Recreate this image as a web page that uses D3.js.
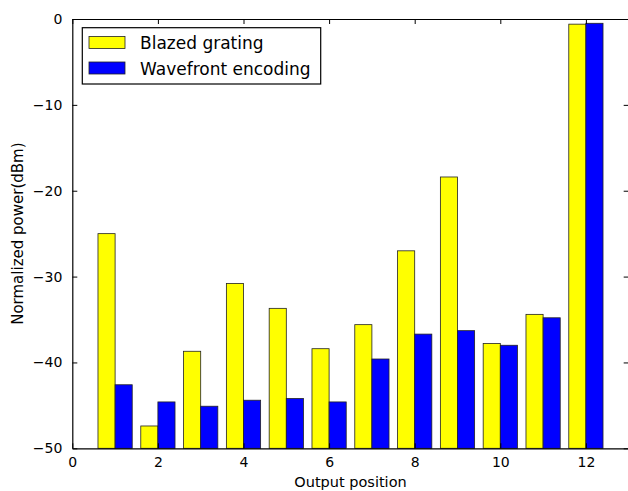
<!DOCTYPE html>
<html>
<head>
<meta charset="utf-8">
<script src="https://cdn.jsdelivr.net/npm/d3@7"></script>
<style>
  html, body { margin: 0; padding: 0; background: #fff; }
  svg { display: block; }
  text { font-family: "DejaVu Sans", sans-serif; fill: #000; }
</style>
</head>
<body>
<svg id="chart" width="628" height="491"></svg>
<script>
// Output positions along the x axis
const positions = [1, 2, 3, 4, 5, 6, 7, 8, 9, 10, 11, 12];
// Normalized power (dBm) for each method
const blazedGrating = [-25.0, -47.4, -38.7, -30.8, -33.7, -38.4, -35.6, -27.0, -18.4, -37.8, -34.4, -0.6];
const wavefrontEncoding = [-42.6, -44.6, -45.1, -44.4, -44.2, -44.6, -39.6, -36.7, -36.3, -38.0, -34.8, -0.5];
const seriesNames = ["Blazed grating", "Wavefront encoding"];
const seriesColors = ["#ffff00", "#0000ff"];
const xTicks = [0, 2, 4, 6, 8, 10, 12];
const yTicks = [0, -10, -20, -30, -40, -50];

const svg = d3.select("#chart");
const margin = { left: 72.3, right: 628.7, top: 19, bottom: 448.3 };

const x = d3.scaleLinear().domain([0, 13]).range([margin.left, margin.right]);
const y = d3.scaleLinear().domain([-50, 0]).range([margin.bottom, margin.top]);
const barWidth = 0.4;

// Bars: first series sits left of each position, second series right of it
const series = [blazedGrating, wavefrontEncoding];
series.forEach((vals, s) => {
  svg.append("g")
    .selectAll("rect")
    .data(positions.map((p, i) => ({ p, v: vals[i] })))
    .join("rect")
    .attr("x", d => x(d.p + (s === 0 ? -barWidth : 0)))
    .attr("width", d => x(d.p + barWidth) - x(d.p))
    .attr("y", d => y(d.v))
    .attr("height", d => y(-50) - y(d.v))
    .attr("fill", seriesColors[s])
    .attr("stroke", "#222")
    .attr("stroke-width", 0.8);
});

// Axes with inward ticks on all four sides
const tickLen = 5;
const gBottom = svg.append("g").attr("transform", `translate(0,${margin.bottom})`)
  .call(d3.axisBottom(x).tickValues(xTicks).tickSizeInner(-tickLen).tickSizeOuter(0).tickPadding(9).tickFormat(d3.format("d")));
const gTop = svg.append("g").attr("transform", `translate(0,${margin.top})`)
  .call(d3.axisTop(x).tickValues(xTicks).tickSizeInner(-tickLen).tickSizeOuter(0).tickFormat(""));
const gLeft = svg.append("g").attr("transform", `translate(${margin.left},0)`)
  .call(d3.axisLeft(y).tickValues(yTicks).tickSizeInner(-tickLen).tickSizeOuter(0).tickPadding(10)
    .tickFormat(d => d < 0 ? "\u2212" + Math.abs(d) : String(d)));
const gRight = svg.append("g").attr("transform", `translate(${margin.right},0)`)
  .call(d3.axisRight(y).tickValues(yTicks).tickSizeInner(-tickLen).tickSizeOuter(0).tickFormat(""));

[gBottom, gTop, gLeft, gRight].forEach(g => {
  g.selectAll("path.domain").attr("stroke", "#000").attr("stroke-width", 1.2);
  g.selectAll(".tick line").attr("stroke", "#000").attr("stroke-width", 1);
  g.selectAll("text").style("font-family", "DejaVu Sans, sans-serif").style("font-size", "14px").attr("fill", "#000");
});

// Axis titles
svg.append("text")
  .attr("x", (margin.left + margin.right) / 2)
  .attr("y", 486.5)
  .attr("text-anchor", "middle")
  .style("font-size", "14.5px")
  .text("Output position");

svg.append("text")
  .attr("transform", `translate(23,${(margin.top + margin.bottom) / 2}) rotate(-90)`)
  .attr("text-anchor", "middle")
  .style("font-size", "15px")
  .text("Normalized power(dBm)");

// Legend
const legend = svg.append("g");
legend.append("rect")
  .attr("x", 82.3).attr("y", 27.7).attr("width", 238.4).attr("height", 56.3)
  .attr("fill", "#fff").attr("stroke", "#000").attr("stroke-width", 1.2);
seriesNames.forEach((name, i) => {
  const cy = 42.5 + i * 25.5;
  legend.append("rect")
    .attr("x", 89).attr("y", cy - 6).attr("width", 36).attr("height", 12)
    .attr("fill", seriesColors[i]).attr("stroke", "#222").attr("stroke-width", 0.8);
  legend.append("text")
    .attr("x", 140).attr("y", cy + 6.5)
    .style("font-size", "17px")
    .text(name);
});
</script>
</body>
</html>
